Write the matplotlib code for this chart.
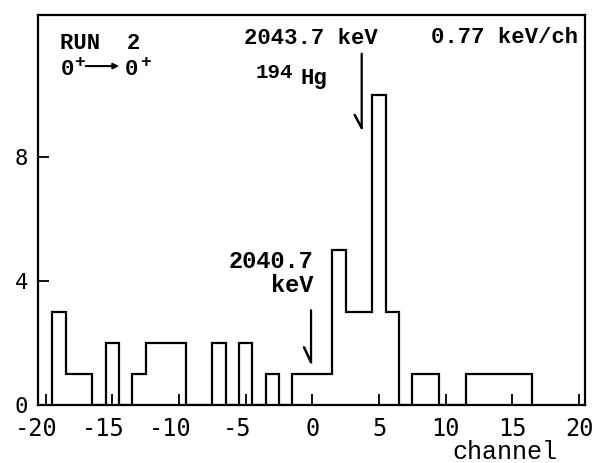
import matplotlib
matplotlib.use("Agg")
import matplotlib.pyplot as plt
import matplotlib.transforms as mtransforms
import numpy as np

# ---- data ----
channels = list(range(-19, 17))
counts = [3, 1, 1, 0, 2, 0, 1, 2, 2, 2, 0, 0, 2, 0, 2, 0, 1, 0,
          1, 1, 1, 5, 3, 3, 10, 3, 0, 1, 1, 0, 0, 1, 1, 1, 1, 1]
xticks = [-20, -15, -10, -5, 0, 5, 10, 15, 20]
yticks = [0, 4, 8]
arrow_hi_x = 3.7      # 2043.7 keV
arrow_lo_x = -0.1     # 2040.7 keV

plt.rcParams['axes.unicode_minus'] = False

fig = plt.figure(figsize=(5.95, 4.63), dpi=100)
ax = fig.add_axes([38/595, 58/463, 547/595, 390/463])

edges = np.array(channels + [channels[-1] + 1]) - 0.5
ax.stairs(counts, edges, baseline=0, color='black', lw=1.6)

ax.set_xlim(-20.58, 20.45)
ax.set_ylim(0, 12.6)
ax.set_xticks(xticks)
ax.set_yticks(yticks)
ax.set_xticklabels([str(t) for t in xticks], family='DejaVu Sans Mono', fontsize=17)
ax.set_yticklabels([str(t) for t in yticks], family='DejaVu Sans Mono', fontsize=16)
ax.tick_params(axis='x', direction='in', length=8, width=1.3, pad=9)
ax.tick_params(axis='y', direction='in', length=8, width=1.3, pad=7)
for s in ax.spines.values():
    s.set_linewidth(1.6)

shift = mtransforms.ScaledTranslation(-9/100, 0, fig.dpi_scale_trans)
for lab in ax.get_xticklabels():
    if lab.get_text().startswith('-'):
        lab.set_transform(lab.get_transform() + shift)

mono = 'Liberation Mono'
ax.text(-18.93, 11.68, 'RUN  2', family=mono, fontsize=16, ha='left', va='center',
        weight='bold')
# 0+ -> 0+
ax.text(-18.40, 10.84, '0', family=mono, fontsize=16, ha='center', va='center',
        weight='bold')
ax.text(-17.45, 11.08, '+', family=mono, fontsize=13, ha='center', va='center',
        weight='bold')
ax.annotate('', xy=(-14.5, 10.95), xytext=(-17.0, 10.95),
            arrowprops=dict(arrowstyle='-|>', lw=1.5, color='black',
                            shrinkA=0, shrinkB=0, mutation_scale=8))
ax.text(-13.56, 10.84, '0', family=mono, fontsize=16, ha='center', va='center',
        weight='bold')
ax.text(-12.55, 11.08, '+', family=mono, fontsize=13, ha='center', va='center',
        weight='bold')

ax.text(-0.1, 11.84, '2043.7 keV', family=mono, fontsize=16, ha='center', va='center',
        weight='bold')
ax.text(19.93, 11.87, '0.77 keV/ch', family=mono, fontsize=16, ha='right', va='center',
        weight='bold')
ax.text(-2.84, 10.74, '194', family=mono, fontsize=15, ha='center', va='center',
        weight='bold')
ax.text(-0.9, 10.55, 'Hg', family=mono, fontsize=16, ha='left', va='center',
        weight='bold')
ax.text(0.07, 4.65, '2040.7', family=mono, fontsize=17, ha='right', va='center',
        weight='bold')
ax.text(0.07, 3.87, 'keV', family=mono, fontsize=17, ha='right', va='center',
        weight='bold')

# arrows (shaft + one-sided barb)
for ax_x, y_top, y_tip, bx, by in [(arrow_hi_x, 11.35, 8.95, -7, 13),
                                   (arrow_lo_x, 3.06, 1.38, -7, 15)]:
    ax.annotate('', xy=(ax_x, y_tip), xytext=(ax_x, y_top),
                arrowprops=dict(arrowstyle='-', lw=1.6, color='black',
                                shrinkA=0, shrinkB=0))
    ax.annotate('', xy=(ax_x, y_tip), xytext=(bx, by), textcoords='offset pixels',
                arrowprops=dict(arrowstyle='-', lw=1.8, color='black',
                                shrinkA=0, shrinkB=0))

ax.text(0.854, -0.12, 'channel', family=mono, fontsize=18, ha='center', va='center',
        transform=ax.transAxes)

fig.savefig('out.png', dpi=100)
